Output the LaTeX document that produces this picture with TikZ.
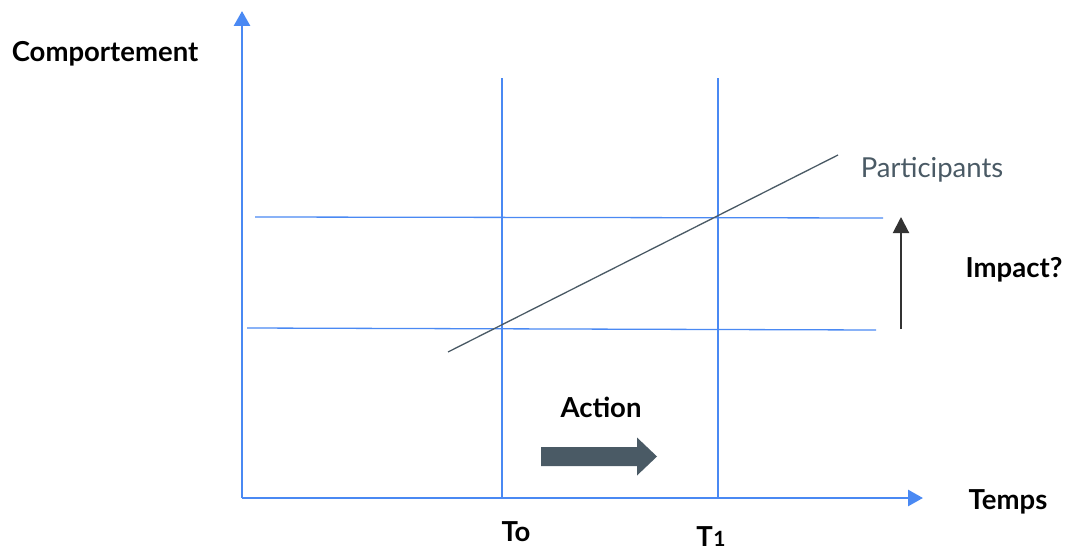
\documentclass[tikz,border=0pt]{standalone}
\usepackage{fontspec}
\setmainfont{Lato}
\usetikzlibrary{arrows.meta}
\definecolor{axisblue}{HTML}{4A89F3}
\definecolor{slate}{HTML}{4A5A65}
\definecolor{darkarrow}{HTML}{333333}
\tikzset{
  axis/.style={axisblue, line width=2.8pt, -{Triangle[length=15pt,width=16pt]}},
  grid/.style={axisblue, line width=1.3pt},
  lbl/.style={font=\bfseries\fontsize{27.5}{32}\selectfont, text=black, inner sep=0pt, anchor=base},
}
\begin{document}
\begin{tikzpicture}[x=1pt,y=-1pt]
\useasboundingbox (0,0) rectangle (1068,551);
% axes
\coordinate (O) at (242,498);
\coordinate (ytip) at (242,11);
\coordinate (xtip) at (923,498);
\draw[axis] (O) -- (ytip);
\draw[axis] (O) -- (xtip);
% vertical grid lines
\coordinate (v0t) at (502,78); \coordinate (v0b) at (502,498);
\coordinate (v1t) at (718,78); \coordinate (v1b) at (718,498);
\draw[grid] (v0t) -- (v0b);
\draw[grid] (v1t) -- (v1b);
% horizontal lines
\coordinate (h1a) at (255,217); \coordinate (h1b) at (883,218);
\coordinate (h2a) at (247,328); \coordinate (h2b) at (876,330);
\draw[grid] (h1a) -- (h1b);
\draw[grid] (h2a) -- (h2b);
% participants line
\coordinate (pa) at (448,352); \coordinate (pb) at (838,155);
\draw[slate, line width=1.3pt] (pa) -- (pb);
\node[font=\fontsize{27.5}{32}\selectfont, text=slate, inner sep=0pt, anchor=base] (part) at (932,177) {Participants};
% impact arrow
\coordinate (ia) at (901,329); \coordinate (ib) at (901,217);
\draw[darkarrow, line width=2pt, -{Triangle[length=16pt,width=16pt]}] (ia) -- (ib);
\node[lbl] (impact) at (1014,277) {Impact?};
% action
\node[lbl] (action) at (601,417) {Action};
\fill[slate] (541,447) -- (637,447) -- (637,437.5) -- (657,456.5) -- (637,475.5) -- (637,466) -- (541,466) -- cycle;
% labels
\node[lbl] (temps) at (1008,509) {Temps};
\node[lbl] (comp) at (105,62) {Comportement};
\node[lbl] (t0) at (516,541) {To};
\node[lbl] (t1) at (711,546) {T\kern0.5pt{\fontsize{21}{24}\selectfont 1}};
\end{tikzpicture}
\end{document}
